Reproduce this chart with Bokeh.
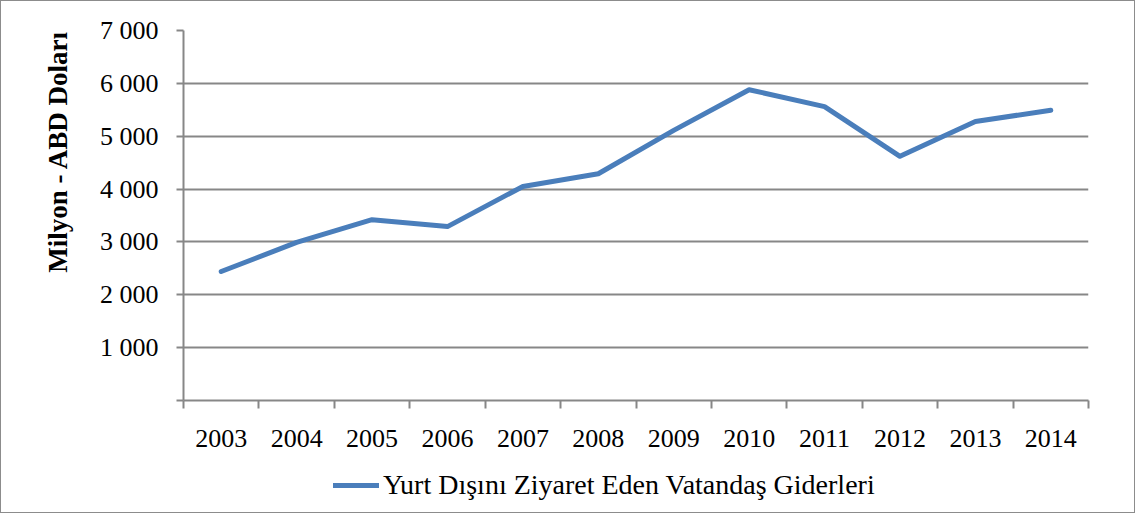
from bokeh.plotting import figure
from bokeh.models import Range1d, FixedTicker, Legend, LegendItem, ColumnDataSource, Title
from bokeh.layouts import column
from bokeh.embed import file_html
from bokeh.resources import INLINE

years = ["2003", "2004", "2005", "2006", "2007", "2008",
         "2009", "2010", "2011", "2012", "2013", "2014"]
values = [2440, 2990, 3420, 3290, 4050, 4290, 5110, 5880, 5560, 4620, 5280, 5490]
series_name = "Yurt Dışını Ziyaret Eden Vatandaş Giderleri"
y_ticks = [0, 1000, 2000, 3000, 4000, 5000, 6000, 7000]
y_tick_labels = ["", "1 000", "2 000", "3 000", "4 000", "5 000", "6 000", "7 000"]
y_title = "Milyon - ABD Doları"

FONT = "Liberation Serif"
GRID = "#878787"
BLUE = "#4A7EBB"

xpos = list(range(len(years)))
src = ColumnDataSource(dict(x=xpos, y=values))

p = figure(width=1133, height=462, frame_width=905, frame_height=370,
           output_backend="svg", toolbar_location=None,
           x_range=Range1d(-0.5, len(years) - 0.5), y_range=Range1d(0, 7000),
           min_border_left=182, min_border_right=46, min_border_top=29,
           min_border_bottom=63, outline_line_color=None)

r = p.line("x", "y", source=src, line_color=BLUE, line_width=5,
           line_cap="round", line_join="round")

# x axis: labels at category centres, tick marks between categories
xa = p.xaxis[0]
xa.ticker = FixedTicker(ticks=xpos, minor_ticks=[i - 0.5 for i in range(len(years) + 1)])
xa.major_label_overrides = {i: y for i, y in enumerate(years)}
xa.major_tick_out = 0
xa.major_tick_in = 0
xa.minor_tick_out = 8
xa.minor_tick_in = 0
xa.minor_tick_line_color = GRID
xa.minor_tick_line_width = 2
xa.axis_line_color = GRID
xa.axis_line_width = 2
xa.major_label_standoff = 21
xa.major_label_text_font = FONT
xa.major_label_text_font_size = "26px"
xa.major_label_text_color = "black"

ya = p.yaxis[0]
ya.ticker = FixedTicker(ticks=y_ticks, minor_ticks=[])
ya.major_label_overrides = {t: l for t, l in zip(y_ticks, y_tick_labels)}
ya.major_tick_out = 7
ya.major_tick_in = 0
ya.major_tick_line_color = GRID
ya.major_tick_line_width = 2
ya.axis_line_color = GRID
ya.axis_line_width = 2
ya.major_label_standoff = 18
ya.major_label_text_font = FONT
ya.major_label_text_font_size = "26px"
ya.major_label_text_color = "black"

p.xgrid.grid_line_color = None
p.ygrid.grid_line_color = GRID
p.ygrid.grid_line_width = 2

# y-axis title, top-aligned as in the reference
p.add_layout(Title(text=y_title, align="right", text_font=FONT,
                   text_font_size="27px", text_font_style="bold",
                   text_color="black", standoff=47), "left")

# legend strip beneath the chart (its own line is kept outside its visible range)
p2 = figure(width=1133, height=49, output_backend="svg", toolbar_location=None,
            x_range=Range1d(-0.5, len(years) - 0.5), y_range=Range1d(-2, -1),
            min_border_left=182, min_border_right=46, min_border_top=0,
            min_border_bottom=0, outline_line_color=None)
p2.axis.visible = False
p2.grid.visible = False
r2 = p2.line("x", "y", source=src, line_color=BLUE, line_width=5, line_cap="round")
legend = Legend(items=[LegendItem(label=series_name, renderers=[r2])],
                orientation="horizontal", location=(150, 11),
                border_line_color=None, background_fill_alpha=0,
                label_text_font=FONT, label_text_font_size="28px",
                label_text_color="black", glyph_width=46, glyph_height=20,
                label_standoff=4, padding=4, margin=0)
p2.add_layout(legend, "center")

layout = column(p, p2, spacing=0, styles={"border": "1px solid #8c8c8c"})

open("out.html", "w").write(file_html(layout, INLINE))
